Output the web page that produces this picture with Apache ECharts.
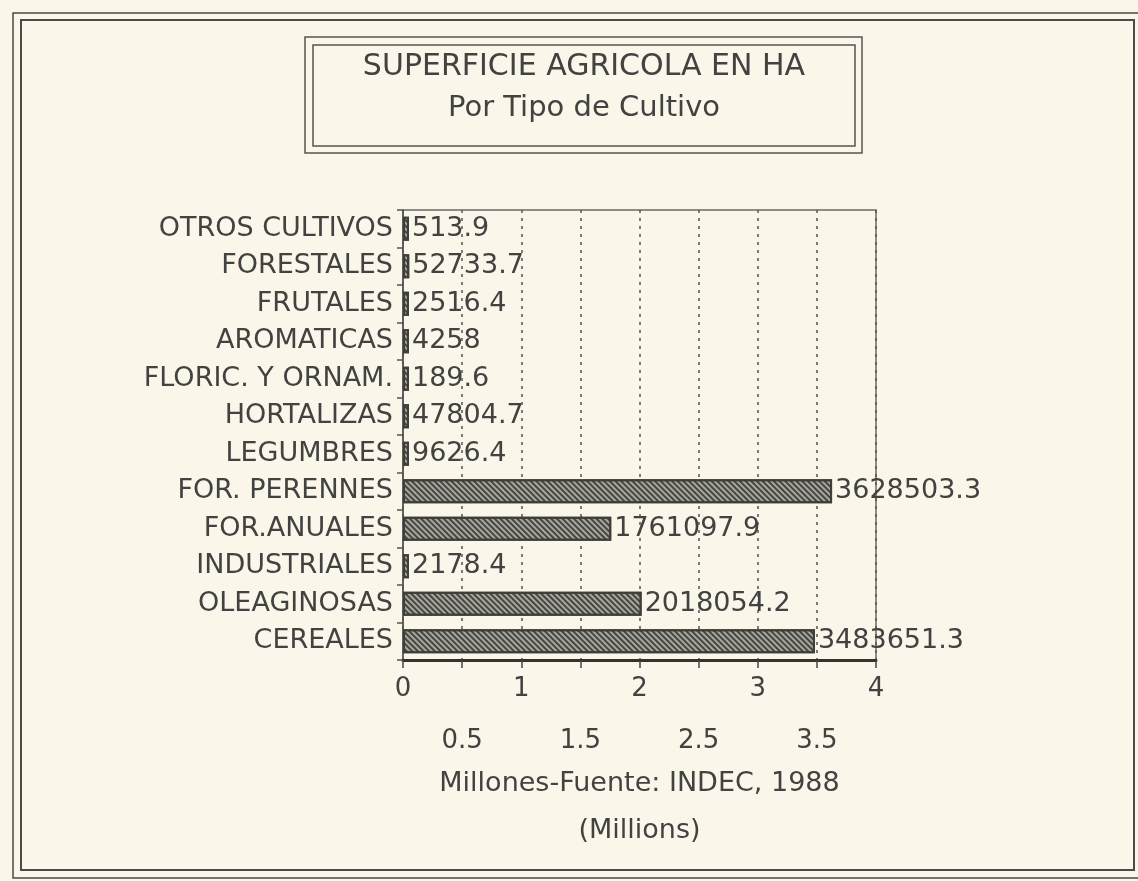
<!DOCTYPE html>
<html>
<head>
<meta charset="utf-8">
<title>Superficie agricola en HA</title>
<script src="https://cdn.jsdelivr.net/npm/echarts@6/dist/echarts.min.js"></script>
<style>
  html, body { margin: 0; padding: 0; background: #fbf6ea; }
  #main { width: 1138px; height: 881px; }
</style>
</head>
<body>
<div id="main"></div>
<script>
// categories listed bottom to top, as on the chart
const categories = ['CEREALES', 'OLEAGINOSAS', 'INDUSTRIALES', 'FOR.ANUALES', 'FOR. PERENNES',
  'LEGUMBRES', 'HORTALIZAS', 'FLORIC. Y ORNAM.', 'AROMATICAS', 'FRUTALES', 'FORESTALES', 'OTROS CULTIVOS'];
const hectares = [3483651.3, 2018054.2, 2178.4, 1761097.9, 3628503.3,
  9626.4, 47804.7, 189.6, 4258, 2516.4, 52733.7, 513.9];
const wholeTickLabels = ['0', '1', '2', '3', '4'];
const halfTickLabels = ['0.5', '1.5', '2.5', '3.5'];

const ink = '#424240';
const font = 'DejaVu Sans';

var myChart = echarts.init(document.getElementById('main'));

function tickText(list) {
  return function (v) {
    var s = String(Math.round(v * 10) / 10);
    return list.indexOf(s) >= 0 ? s : '';
  };
}

myChart.setOption({
  backgroundColor: '#fbf6ea',
  animation: false,
  textStyle: { fontFamily: font, color: ink },
  graphic: [
    // double frame round the page
    { type: 'rect', shape: { x: 13, y: 13, width: 1140, height: 865 }, style: { fill: null, stroke: '#4a4a46', lineWidth: 1.5 } },
    { type: 'rect', shape: { x: 21, y: 20, width: 1113, height: 850 }, style: { fill: null, stroke: '#4a4a46', lineWidth: 2 } },
    // title box
    { type: 'rect', shape: { x: 305, y: 37, width: 557, height: 116 }, style: { fill: null, stroke: '#55554f', lineWidth: 1.5 } },
    { type: 'rect', shape: { x: 313, y: 45, width: 542, height: 101 }, style: { fill: null, stroke: '#55554f', lineWidth: 1.5 } },
    { type: 'text', x: 584, y: 67, style: { text: 'SUPERFICIE AGRICOLA EN HA', font: '30px "DejaVu Sans"', fill: ink, textAlign: 'center', textVerticalAlign: 'middle' } },
    { type: 'text', x: 584, y: 108, style: { text: 'Por Tipo de Cultivo', font: '29px "DejaVu Sans"', fill: ink, textAlign: 'center', textVerticalAlign: 'middle' } }
  ],
  grid: {
    left: 403, right: 262, top: 210, height: 450,
    show: true, borderColor: '#6a6a64', borderWidth: 1.5, backgroundColor: 'transparent'
  },
  xAxis: [{
    type: 'value', min: 0, max: 4, interval: 0.5,
    name: 'Millones-Fuente: INDEC, 1988', nameLocation: 'middle', nameGap: 110,
    nameTextStyle: { fontSize: 27, color: ink, fontFamily: font },
    axisLine: { show: true, lineStyle: { color: '#333330', width: 3 } },
    axisTick: { show: true, length: 8, lineStyle: { color: '#444', width: 1.5 } },
    splitLine: { show: true, lineStyle: { color: '#55554f', type: [3, 5], width: 1.5 } },
    axisLabel: { margin: 16, fontSize: 26, color: ink, fontFamily: font, formatter: tickText(wholeTickLabels), showMinLabel: true, showMaxLabel: true }
  }, {
    type: 'value', min: 0, max: 4, interval: 0.5, position: 'bottom',
    name: '(Millions)', nameLocation: 'middle', nameGap: 157,
    nameTextStyle: { fontSize: 27, color: ink, fontFamily: font },
    axisLine: { show: false }, axisTick: { show: false }, splitLine: { show: false },
    axisLabel: { margin: 68, fontSize: 26, color: ink, fontFamily: font, formatter: tickText(halfTickLabels) }
  }],
  yAxis: {
    type: 'category', data: categories,
    axisLine: { show: true, lineStyle: { color: '#55554f', width: 1.5 } },
    axisTick: { show: true, length: 6, lineStyle: { color: '#55554f', width: 1.5 } },
    axisLabel: { margin: 10, fontSize: 27, color: ink, fontFamily: font }
  },
  series: [{
    type: 'bar',
    xAxisIndex: 0,
    data: hectares.map(function (h) { return h / 1e6; }),
    barCategoryGap: '36%',
    barMinHeight: 6,
    itemStyle: {
      color: '#a8a79f',
      borderColor: '#3f3f3a',
      borderWidth: 2,
      decal: {
        symbol: 'rect', symbolSize: 1,
        color: 'rgba(45,45,40,0.8)',
        dashArrayX: [1, 0], dashArrayY: [2, 2],
        rotation: Math.PI / 4
      }
    },
    label: {
      show: true, position: 'right', distance: 3,
      fontSize: 27, color: ink, fontFamily: font,
      formatter: function (p) { return String(hectares[p.dataIndex]); }
    }
  }]
});
</script>
</body>
</html>
